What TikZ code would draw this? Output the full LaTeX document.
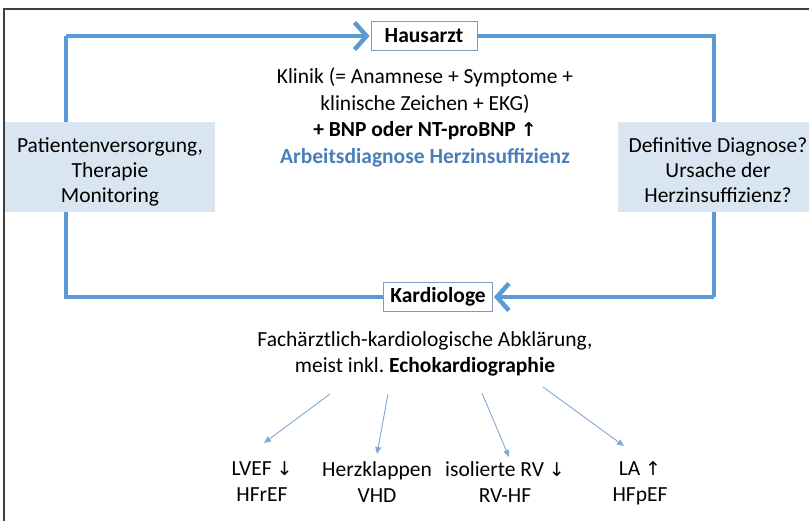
\documentclass[tikz,border=0pt]{standalone}
\usepackage{fontspec}
\setmainfont{Carlito}
\newfontfamily\symfont{DejaVu Sans}
\usetikzlibrary{arrows.meta}
\definecolor{mainblue}{HTML}{5B9BD5}
\definecolor{boxfill}{HTML}{D9E6F2}
\definecolor{textblue}{HTML}{4A7EBB}
\definecolor{thinblue}{HTML}{7FA9D6}
\definecolor{framegray}{HTML}{404040}
\newcommand{\uarr}{{\symfont\fontsize{19}{26}\selectfont↑}}
\newcommand{\darr}{{\symfont\fontsize{19}{26}\selectfont↓}}
\begin{document}
\begin{tikzpicture}[x=1pt,y=-1pt,
  txt/.style={font=\fontsize{21.5}{26.5}\selectfont, align=center, inner sep=0pt},
  sidetxt/.style={font=\fontsize{21.5}{25}\selectfont, align=center, inner sep=0pt, anchor=north},
  rolebox/.style={draw=thinblue!70!gray, line width=0.8pt, fill=white, font=\fontsize{21.5}{22}\selectfont\bfseries, minimum height=29pt, inner sep=2pt},
  sidebox/.style={fill=boxfill, minimum height=90pt, inner sep=0pt},
  loop/.style={draw=mainblue, line width=4.5pt},
  bigtip/.style={-{Straight Barb[length=12pt,width=27pt,line width=4.5pt]}},
  small/.style={draw=thinblue, line width=0.9pt, -{Triangle[length=7pt,width=6pt]}}
]
\useasboundingbox (0,0) rectangle (809,521);
\draw[framegray, line width=1.2pt] (4,521) -- (4,9) -- (809,9);

% role boxes
\node[rolebox, minimum width=106pt] (haus) at (424,36) {Hausarzt};
\node[rolebox, minimum width=109pt] (kard) at (438,297) {Kardiologe};

% loop
\coordinate (tl) at (66,36);
\coordinate (tr) at (714,36);
\coordinate (bl) at (66,297);
\coordinate (br) at (714,297);
\draw[loop] (haus.east) -- (tr) -- (br);
\draw[loop] (kard.west) -- (bl) -- (tl);
\draw[loop, bigtip] (tl) -- ([xshift=-1pt]haus.west);
\draw[loop, bigtip] (br) -- ([xshift=1pt]kard.east);

% side boxes
\node[sidebox, minimum width=210pt] (left) at (110,167) {};
\node[sidetxt] (lefttext) at (110,137) {Patientenversorgung,\\Therapie\\Monitoring};
\node[sidebox, minimum width=200pt] (right) at (718,167) {};
\node[sidetxt] (righttext) at (718,137) {Definitive Diagnose?\\Ursache der\\Herzinsuffizienz?};

% center text
\node[txt, anchor=north] (klinik) at (425,68) {Klinik (= Anamnese + Symptome +\\klinische Zeichen + EKG)\\\textbf{+ BNP oder NT-proBNP {\symfont\bfseries\fontsize{19}{26}\selectfont↑}}\\\textcolor{textblue}{\textbf{Arbeitsdiagnose Herzinsuffizienz}}};

\node[txt, anchor=north] (fach) at (425,331) {Fachärztlich-kardiologische Abklärung,\\meist inkl.\ \textbf{Echokardiographie}};

% outcomes
\node[txt, anchor=north] (lvef) at (262,461) {LVEF \darr\\HFrEF};
\node[txt, anchor=north] (vhd) at (377,461) {Herzklappen\\VHD};
\node[txt, anchor=north] (rv) at (505,461) {isolierte RV \darr\\RV-HF};
\node[txt, anchor=north] (la) at (640,461) {LA \uarr\\HFpEF};

\coordinate (s1) at (330,394);
\coordinate (s2) at (388,394);
\coordinate (s3) at (482,393);
\coordinate (s4) at (543,387);
\coordinate (e1) at (264,443);
\coordinate (e2) at (377,454);
\coordinate (e3) at (509,457);
\coordinate (e4) at (624,446);
\draw[small] (s1) -- (e1);
\draw[small] (s2) -- (e2);
\draw[small] (s3) -- (e3);
\draw[small] (s4) -- (e4);
\end{tikzpicture}
\end{document}
